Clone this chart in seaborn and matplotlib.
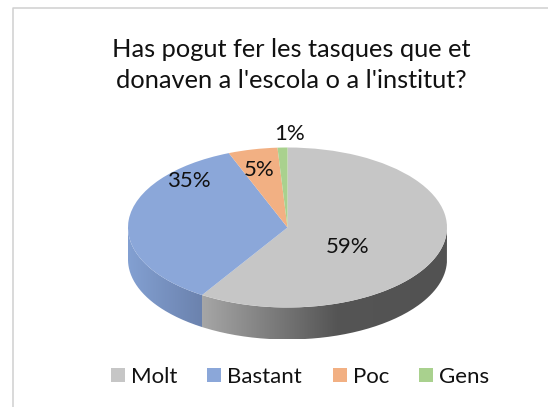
import numpy as np
import matplotlib
matplotlib.use("Agg")
import matplotlib.pyplot as plt
from matplotlib.colors import LinearSegmentedColormap
from matplotlib.lines import Line2D
from matplotlib.path import Path
from matplotlib.patches import PathPatch
import seaborn as sns

categories = ["Molt", "Bastant", "Poc", "Gens"]
values = [59, 35, 5, 1]
pct_labels = ["59%", "35%", "5%", "1%"]
title_text = "Has pogut fer les tasques que et\ndonaven a l'escola o a l'institut?"

sns.set_theme(style="white")
plt.rcParams['font.family'] = ['Lato', 'DejaVu Sans']
palette = sns.color_palette(["#c6c6c6", "#8ba7d9", "#f2b083", "#a9d18e"])

W, H = 548, 407
depth = 0.4  # thickness of the disc, in units of the vertical radius

fig = plt.figure(figsize=(W / 100, H / 100), dpi=100, facecolor="white")
ax = fig.add_axes([128 / W, 1 - 339.5 / H, 319 / W, 192 / H])

wedges, _ = ax.pie(values, colors=palette, startangle=90, counterclock=False, radius=1,
                   wedgeprops=dict(linewidth=0, zorder=5))

# side of the disc, one gradient per slice that faces the viewer
side_cmaps = [
    LinearSegmentedColormap.from_list("g", [(0, "#a6a6a6"), (0.55, "#555555"), (1, "#525252")]),
    LinearSegmentedColormap.from_list("b", [(0, "#83a0d2"), (1, "#6b82ad")]),
]
for wedge, cmap in zip(wedges, side_cmaps):
    a0 = max(wedge.theta1, -180)
    a1 = min(wedge.theta2, 0)
    t = np.radians(np.linspace(a0, a1, 120))
    x, y = np.cos(t), np.sin(t)
    verts = np.r_[np.c_[x, y], np.c_[x[::-1], y[::-1] - depth], [[x[0], y[0]]]]
    clip = PathPatch(Path(verts), transform=ax.transData, facecolor="none", edgecolor="none")
    ax.add_patch(clip)
    im = ax.imshow(np.linspace(0, 1, 256)[None, :], cmap=cmap, aspect="auto", zorder=2,
                   extent=[x.min(), x.max(), -1 - depth, 0])
    im.set_clip_path(clip)

ax.set_aspect("auto")
ax.set_xlim(-1, 1)
ax.set_ylim(-1 - depth, 1)
ax.axis("off")

# text placed in pixels of the picture
def px(x, y):
    return x / W, 1 - y / H

fig.text(*px(291, 65), title_text, ha="center", va="center", fontsize=18.3, color="#111111",
         linespacing=1.46)

label_pos = [(348, 247), (189, 181), (259, 170), (290, 134)]
for s, (lx, ly) in zip(pct_labels, label_pos):
    fig.text(*px(lx, ly), s, ha="center", va="center", fontsize=16, color="#111111", zorder=10)

fig.legend(wedges, categories, loc="center", bbox_to_anchor=px(300, 377), ncol=4, frameon=False,
           fontsize=16, handlelength=0.63, handleheight=0.63, handletextpad=0.27,
           columnspacing=1.37, labelcolor="#111111")

# chart frame, cut by the edge of the picture
fig.add_artist(Line2D([13 / W, 13 / W, 1], [0, 1 - 7.5 / H, 1 - 7.5 / H], color="#d0d0d0", lw=1.1))

fig.savefig("out.png", dpi=100)
